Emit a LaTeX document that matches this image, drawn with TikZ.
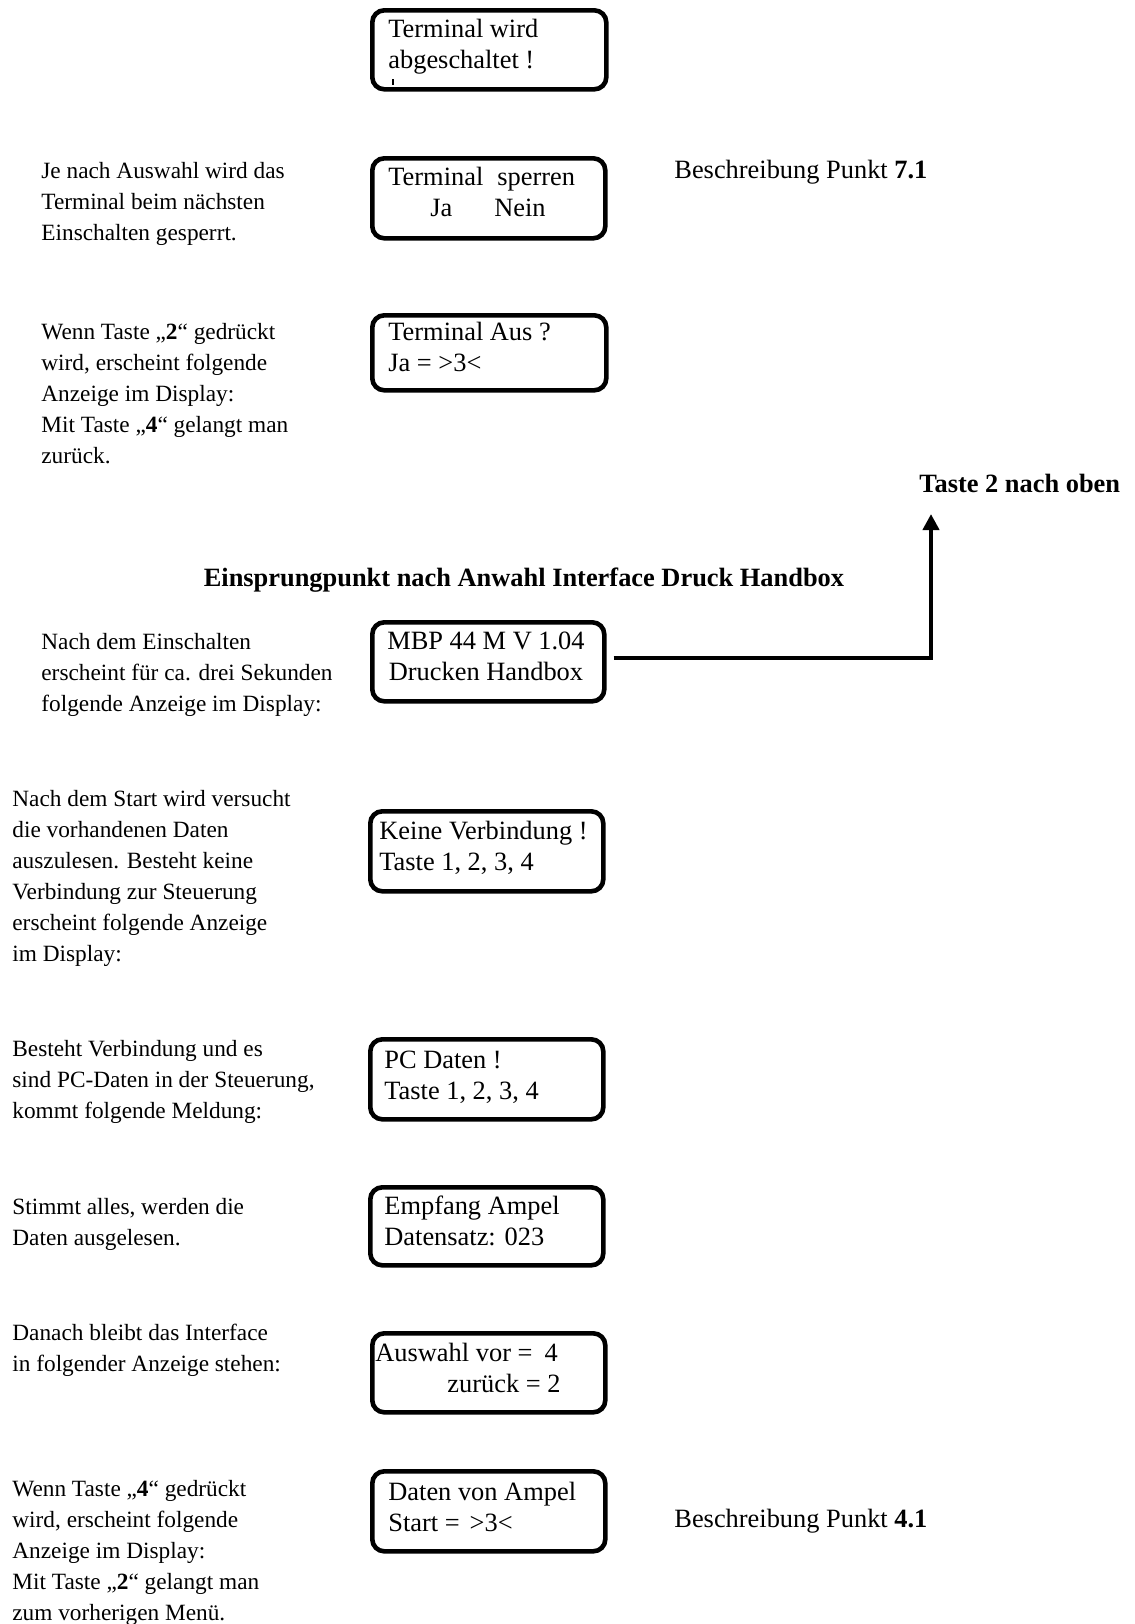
\documentclass[tikz,border=0pt]{standalone}
\usepackage{fontspec}
\setmainfont{Liberation Serif}
\usetikzlibrary{arrows.meta}
\newcommand\lcdbox[5]{%
  \node[lcd, minimum width={(#4-#2)*0.5pt}, minimum height={(#5-#3)*0.5pt}] (#1) at (#2,#3) {};}
\begin{document}
\begin{tikzpicture}[x=0.5pt,y=-0.5pt,
  lcd/.style={draw, line width=2.3pt, rounded corners=6pt, inner sep=0pt, anchor=north west},
  lt/.style={font=\fontsize{11.65}{15.5}\selectfont, align=left, anchor=base west, inner sep=0pt},
  bt/.style={font=\fontsize{13.2}{15.5}\selectfont, align=left, anchor=base west, inner sep=0pt},
  conn/.style={line width=2pt, -{Triangle[length=8pt,width=8pt]}, shorten <=3.5pt},
]
\useasboundingbox (0,0) rectangle (1135,1624);

% display boxes
\lcdbox{b1}{370}{8}{604}{87}
\lcdbox{b2}{370}{156}{603}{236}
\lcdbox{b3}{370}{313}{604}{388}
\lcdbox{b4}{370}{620}{602}{699}
\lcdbox{b5}{368}{809}{601}{889}
\lcdbox{b6}{368}{1037}{601}{1117}
\lcdbox{b7}{368}{1185}{601}{1263}
\lcdbox{b8}{370}{1331}{603}{1410}
\lcdbox{b9}{370}{1469}{603}{1549}

% box texts (y = baseline of last line)
\node[bt] (t1) at (388,68) {Terminal wird\\abgeschaltet !};
\draw[line width=0.7pt] (393,79) -- (393,85);
\node[bt] (t2) at (388,216) {Terminal\hspace{7pt}sperren\\\hspace*{21pt}Ja\hspace{21pt}Nein};
\node[bt] (t3) at (388,371) {Terminal Aus ?\\Ja = >3<};
\node[bt, align=center, anchor=base] (t4) at (486,680) {MBP 44 M V 1.04\\Drucken Handbox};
\node[bt] (t5) at (379,870) {Keine Verbindung !\\Taste 1, 2, 3, 4};
\node[bt] (t6) at (384,1099) {PC Daten !\\Taste 1, 2, 3, 4};
\node[bt] (t7) at (384,1245) {Empfang Ampel\\Datensatz: 023};
\node[bt] (t8) at (375,1392) {Auswahl vor =\hspace{6pt}4\\\hspace*{36pt}zurück = 2};
\node[bt] (t9) at (388,1531) {Daten von Ampel\\Start =\hspace{5pt}>3<};

% left descriptions (y = baseline of last line)
\node[lt] (l1) at (41,240) {Je nach Auswahl wird das\\Terminal beim nächsten\\Einschalten gesperrt.};
\node[lt] (l2) at (41,463) {Wenn Taste „\textbf{2}“ gedrückt\\wird, erscheint folgende\\Anzeige im Display:\\Mit Taste „\textbf{4}“ gelangt man\\zurück.};
\node[lt] (l3) at (41,711) {Nach dem Einschalten\\erscheint für ca. drei Sekunden\\folgende Anzeige im Display:};
\node[lt] (l4) at (12,961) {Nach dem Start wird versucht\\die vorhandenen Daten\\auszulesen. Besteht keine\\Verbindung zur Steuerung\\erscheint folgende Anzeige\\im Display:};
\node[lt] (l5) at (12,1118) {Besteht Verbindung und es\\sind PC-Daten in der Steuerung,\\kommt folgende Meldung:};
\node[lt] (l6) at (12,1245) {Stimmt alles, werden die\\Daten ausgelesen.};
\node[lt] (l7) at (12,1371) {Danach bleibt das Interface\\in folgender Anzeige stehen:};
\node[lt] (l8) at (12,1620) {Wenn Taste „\textbf{4}“ gedrückt\\wird, erscheint folgende\\Anzeige im Display:\\Mit Taste „\textbf{2}“ gelangt man\\zum vorherigen Menü.};

% right labels
\node[bt] (r1) at (674,178) {Beschreibung Punkt \textbf{7.1}};
\node[bt] (r2) at (919,492) {\textbf{Taste 2 nach oben}};
\node[bt, anchor=base] (r3) at (524,586) {\textbf{Einsprungpunkt nach Anwahl Interface Druck Handbox}};
\node[bt] (r4) at (674,1527) {Beschreibung Punkt \textbf{4.1}};

% connector
\coordinate (up) at (931,514);
\draw[conn] ([yshift=2pt]b4.east) -| (up);
\end{tikzpicture}
\end{document}
